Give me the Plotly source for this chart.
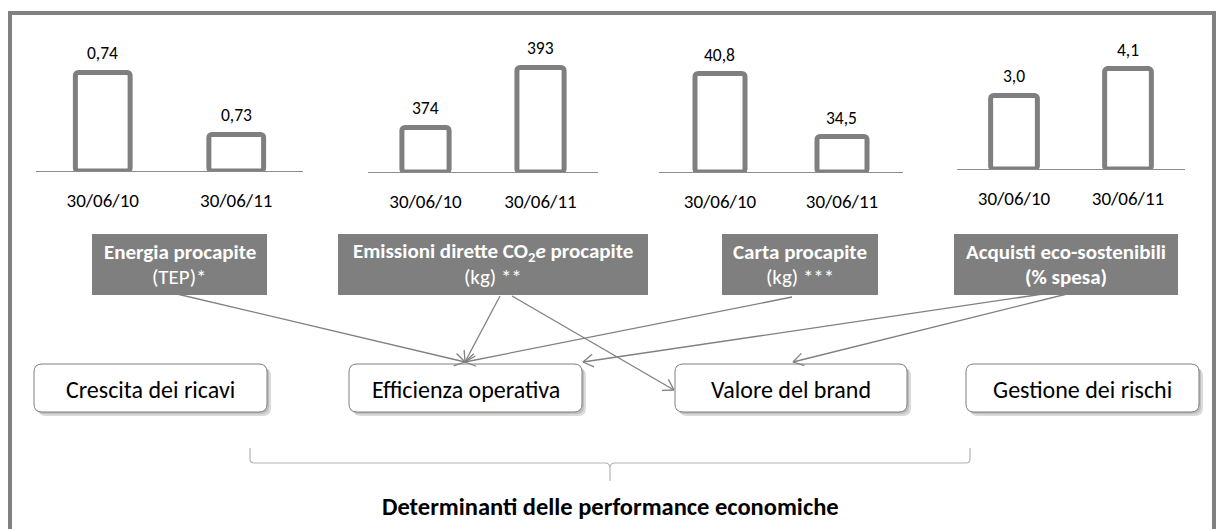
import math
import plotly.graph_objects as go

W, H = 1218, 529
FONT = "Calibri, Carlito, Lato, sans-serif"
GRAY = "#7f7f7f"

# ---------------- data ----------------
categories = ["30/06/10", "30/06/11"]
energia = [0.74, 0.73]
emissioni = [374, 393]
carta = [40.8, 34.5]
acquisti = [3.0, 4.1]
series = [energia, emissioni, carta, acquisti]
decimals = [2, 0, 1, 1]

title_bold = ["Energia procapite", "Emissioni dirette CO<sub>2</sub><i>e</i> procapite",
              "Carta procapite", "Acquisti eco-sostenibili"]
title_sub = ["(TEP)*", "(kg) **", "(kg) ***", "<b>(% spesa)</b>"]
drivers = ["Crescita dei ricavi", "Efficienza operativa", "Valore del brand", "Gestione dei rischi"]
footer = "Determinanti delle performance economiche"

# ---------------- layout geometry (pixels) ----------------
xdom = [(36, 303), (368, 598), (659, 903), (957, 1185)]
baseline = [171, 172, 172, 169]
top = 30
yranges = [(0.7241, 0.74684), (359.9, 404.87), (30.95, 45.15), (0.0, 5.673)]

title_boxes = [(92, 267), (338, 648), (722, 878), (954, 1178)]
tb_y = (234, 295)
driver_boxes = [(34, 267), (349, 582), (675, 907), (966, 1199)]
db_y = (364, 412)
arrows = [((177, 294), (465, 362)), ((500, 296), (465, 362)), ((512, 296), (674, 390)),
          ((792, 297), (465, 362)), ((1043, 294), (583, 362)), ((1067, 294), (793, 362))]


def fmt(v, d):
    return f"{v:.{d}f}".replace(".", ",")


fig = go.Figure()
layout = dict(width=W, height=H, margin=dict(l=0, r=0, t=0, b=0),
              paper_bgcolor="white", plot_bgcolor="rgba(0,0,0,0)",
              showlegend=False, font=dict(family=FONT, color="black"))

annotations = []
shapes = []

for i, vals in enumerate(series):
    n = i + 1
    xa = f"x{n}" if n > 1 else "x"
    ya = f"y{n}" if n > 1 else "y"
    lo = yranges[i][0]
    fig.add_trace(go.Bar(x=categories, y=[v - lo for v in vals], base=lo,
                         xaxis=xa, yaxis=ya, width=0.41,
                         marker=dict(color="white", line=dict(color=GRAY, width=5), cornerradius=3),
                         hoverinfo="skip"))
    x0, x1 = xdom[i]
    layout[f"xaxis{n if n > 1 else ''}"] = dict(
        domain=[x0 / W, x1 / W], anchor=ya, type="category", range=[-0.5, 1.5],
        showline=True, linecolor="#8c8c8c", linewidth=1.3, showgrid=False, zeroline=False,
        ticks="outside", ticklen=12, tickcolor="rgba(0,0,0,0)",
        tickfont=dict(family=FONT, size=19, color="black"), fixedrange=True)
    layout[f"yaxis{n if n > 1 else ''}"] = dict(
        domain=[1 - baseline[i] / H, 1 - top / H], anchor=xa, range=list(yranges[i]),
        visible=False, fixedrange=True)
    for c, v in zip(categories, vals):
        annotations.append(dict(x=c, y=v, xref=xa, yref=ya, text=fmt(v, decimals[i]),
                                showarrow=False, yanchor="bottom", yshift=6,
                                font=dict(family=FONT, size=17.5, color="black")))

# overlay pixel axis for decorations
layout["xaxis5"] = dict(domain=[0, 1], range=[0, W], visible=False, anchor="y5", fixedrange=True)
layout["yaxis5"] = dict(domain=[0, 1], range=[H, 0], visible=False, anchor="x5", fixedrange=True)
fig.add_trace(go.Scatter(x=[None], y=[None], xaxis="x5", yaxis="y5", hoverinfo="skip"))


def rrect(x0, y0, x1, y1, r):
    return (f"M{x0+r},{y0} L{x1-r},{y0} Q{x1},{y0} {x1},{y0+r} L{x1},{y1-r} Q{x1},{y1} {x1-r},{y1} "
            f"L{x0+r},{y1} Q{x0},{y1} {x0},{y1-r} L{x0},{y0+r} Q{x0},{y0} {x0+r},{y0} Z")


# outer frame
shapes.append(dict(type="rect", xref="x5", yref="y5", x0=10, x1=1214, y0=13, y1=545,
                   line=dict(color="#808080", width=4), fillcolor="rgba(0,0,0,0)", layer="below"))

# title boxes
for i, (x0, x1) in enumerate(title_boxes):
    shapes.append(dict(type="rect", xref="x5", yref="y5", x0=x0, x1=x1, y0=tb_y[0], y1=tb_y[1],
                       line=dict(width=0), fillcolor=GRAY, layer="below"))
    cx = (x0 + x1) / 2
    annotations.append(dict(x=cx, y=252, xref="x5", yref="y5", text=f"<b>{title_bold[i]}</b>",
                            showarrow=False, font=dict(family=FONT, size=21, color="white")))
    annotations.append(dict(x=cx, y=277, xref="x5", yref="y5", text=title_sub[i],
                            showarrow=False, font=dict(family=FONT, size=21, color="white")))

# driver boxes
for i, (x0, x1) in enumerate(driver_boxes):
    shapes.append(dict(type="path", xref="x5", yref="y5",
                       path=rrect(x0 + 4, db_y[0] + 4, x1 + 4, db_y[1] + 4, 8),
                       line=dict(width=0), fillcolor="rgba(150,150,150,0.35)", layer="below"))
    shapes.append(dict(type="path", xref="x5", yref="y5",
                       path=rrect(x0 + 2, db_y[0] + 2, x1 + 2, db_y[1] + 2, 8),
                       line=dict(width=0), fillcolor="rgba(150,150,150,0.4)", layer="below"))
    shapes.append(dict(type="path", xref="x5", yref="y5",
                       path=rrect(x0, db_y[0], x1, db_y[1], 8),
                       line=dict(color=GRAY, width=1), fillcolor="white", layer="below"))
    annotations.append(dict(x=(x0 + x1) / 2, y=(db_y[0] + db_y[1]) / 2 + 1, xref="x5", yref="y5",
                            text=drivers[i], showarrow=False,
                            font=dict(family=FONT, size=24, color="black")))

# arrows: shaft + open chevron head
ARM, HALF = 12, math.radians(32)
for (sx, sy), (ex, ey) in arrows:
    shapes.append(dict(type="line", xref="x5", yref="y5", x0=sx, y0=sy, x1=ex, y1=ey,
                       line=dict(color="#808080", width=1.3)))
    ang = math.atan2(sy - ey, sx - ex)
    for s in (1, -1):
        shapes.append(dict(type="line", xref="x5", yref="y5", x0=ex, y0=ey,
                           x1=ex + ARM * math.cos(ang + s * HALF),
                           y1=ey + ARM * math.sin(ang + s * HALF),
                           line=dict(color="#808080", width=1.3)))

# bracket
bx0, bx1, by_top, by, tip_x, tip_y = 250, 970, 448, 463, 610, 481
bpath = (f"M{bx0},{by_top} L{bx0},{by-4} Q{bx0},{by} {bx0+4},{by} L{tip_x-5},{by} "
         f"Q{tip_x},{by} {tip_x},{by+5} L{tip_x},{tip_y} M{tip_x},{by+5} Q{tip_x},{by} {tip_x+5},{by} "
         f"L{bx1-4},{by} Q{bx1},{by} {bx1},{by-4} L{bx1},{by_top}")
shapes.append(dict(type="path", xref="x5", yref="y5", path=bpath,
                   line=dict(color="#b4b4b4", width=1.2), layer="below"))
annotations.append(dict(x=tip_x, y=507, xref="x5", yref="y5", text=f"<b>{footer}</b>",
                        showarrow=False, font=dict(family=FONT, size=24.5, color="black")))

layout["annotations"] = annotations
layout["shapes"] = shapes
fig.update_layout(**layout)
fig.write_html("out.html", config={"displayModeBar": False},
               post_script="document.body.style.margin='0';document.body.style.overflow='hidden';")
